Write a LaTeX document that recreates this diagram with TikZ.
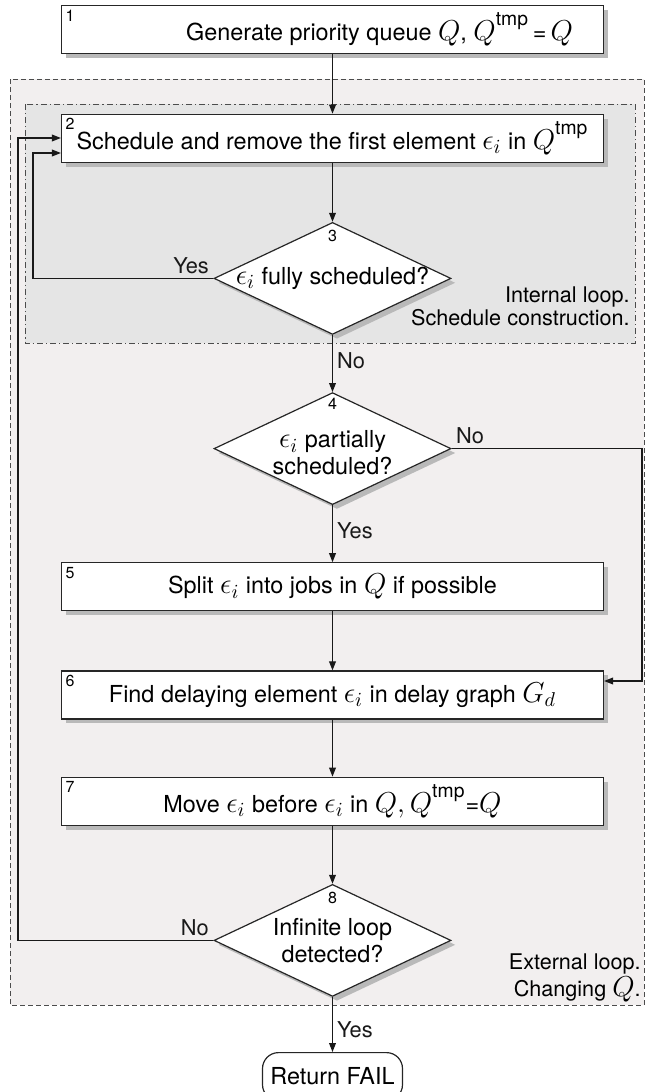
\documentclass[tikz,border=0pt]{standalone}
\usepackage{amsmath}
\usepackage{fontspec}
\setmainfont{TeX Gyre Heros}
\usepackage{tikz}
\usetikzlibrary{shapes.geometric, arrows.meta, positioning, shadows}

\definecolor{extfill}{RGB}{242,239,239}
\definecolor{intfill}{RGB}{229,229,229}
\definecolor{shadegray}{RGB}{185,185,185}

\newcommand{\mq}[1]{{\fontsize{13.8}{15}\selectfont$#1$}}
\newcommand{\tmpsup}{^{\text{\raisebox{2.5pt}{tmp}}}}

\begin{document}
\begin{tikzpicture}[
    x=0.5pt, y=-0.5pt,
    font=\fontsize{11.7}{13.5}\selectfont,
    stepbox/.style={rectangle, draw=black!85, fill=white, line width=0.6pt, minimum width=271pt, minimum height=24pt, inner sep=0pt, drop shadow={shadow xshift=2.2pt, shadow yshift=-2.2pt, fill=shadegray, opacity=1}},
    testbox/.style={diamond, draw=black!85, fill=white, line width=0.6pt, minimum width=118.5pt, minimum height=56pt, inner sep=0pt, drop shadow={shadow xshift=2.2pt, shadow yshift=-2.2pt, fill=shadegray, opacity=1}},
    endbox/.style={rectangle, rounded corners=8pt, draw=black!85, fill=white, line width=0.6pt, minimum width=70pt, minimum height=24pt, inner sep=0pt},
    testtext/.style={align=center, inner sep=0pt, font=\fontsize{11.7}{13.2}\selectfont},
    stepnum/.style={font=\fontsize{8}{8}\selectfont, inner sep=2.2pt, anchor=north west},
    testnum/.style={font=\fontsize{8}{8}\selectfont, inner sep=0pt},
    branch/.style={inner sep=2pt, font=\fontsize{10.9}{12}\selectfont},
    note/.style={align=right, anchor=east, inner sep=0pt, font=\fontsize{10.8}{11.5}\selectfont},
    arr/.style={-{Triangle[length=4.5pt, width=3.4pt]}, line width=0.55pt, color=black!90},
    extloop/.style={draw=black!70, fill=extfill, line width=0.5pt, dash pattern=on 2.5pt off 1.5pt},
    intloop/.style={draw=black!70, fill=intfill, line width=0.5pt, dash pattern=on 3pt off 1.5pt on 0.6pt off 1.5pt}
]

\useasboundingbox (0,0) rectangle (645,1092);

% loop regions
\draw[extloop] (10,79) rectangle (644,1005);
\draw[intloop] (25,104) rectangle (635,343);
\node[note] (intnote) at (630,306) {Internal loop.\\Schedule construction.};
\node[note] (extnote) at (641,978) {External loop.\\Changing \mq{Q}.};

% steps
\node[stepbox] (s1) at (332.5,29.5) {\hspace*{47pt}Generate priority queue \mq{Q}, \mq{Q\tmpsup}\,=\,\mq{Q}};
\node[stepnum] (n1) at (s1.north west) {1};

\node[stepbox, below=29.75pt of s1] (s2) {Schedule and remove the first element \mq{\epsilon_i} in \mq{Q\tmpsup}};
\node[stepnum] (n2) at (s2.north west) {2};

\node[testbox, below=29.5pt of s2] (d3) {};
\node[testtext] (t3) at (d3) {\mq{\epsilon_i} fully scheduled?};
\node[testnum, below=4pt of d3.north] (n3) {3};

\node[testbox, below=28.5pt of d3] (d4) {};
\node[testtext, yshift=-2pt] (t4) at (d4) {\mq{\epsilon_i} partially\\scheduled?};
\node[testnum, below=3pt of d4.north] (n4) {4};

\node[stepbox, below=28.5pt of d4] (s5) {Split \mq{\epsilon_i} into jobs in \mq{Q} if possible};
\node[stepnum] (n5) at (s5.north west) {5};

\node[stepbox, below=29.5pt of s5] (s6) {Find delaying element \mq{\epsilon_i} in delay graph \mq{G_d}};
\node[stepnum] (n6) at (s6.north west) {6};

\node[stepbox, below=28.5pt of s6] (s7) {Move \mq{\epsilon_i} before \mq{\epsilon_i} in \mq{Q, Q\tmpsup}=\mq{Q}};
\node[stepnum] (n7) at (s7.north west) {7};

\node[testbox, below=29pt of s7] (d8) {};
\node[testtext] (t8) at (d8) {Infinite loop\\detected?};
\node[testnum, below=4pt of d8.north] (n8) {8};

\node[endbox, below=27.5pt of d8] (fail) {Return FAIL};

% main flow
\draw[arr] (s1) -- (s2);
\draw[arr] (s2) -- (d3);
\draw[arr] (d3) -- node[branch, right, pos=0.45] (no3) {No} (d4);
\draw[arr] (d4) -- node[branch, right, pos=0.44] (yes4) {Yes} (s5);
\draw[arr] (s5) -- (s6);
\draw[arr] (s6) -- (s7);
\draw[arr] (s7) -- (d8);
\draw[arr] (d8) -- node[branch, right, pos=0.6] (yes8) {Yes} (fail);

% loops back
\coordinate (yesturn) at (33,153);
\coordinate (noturn) at (18,138);
\coordinate (skipturn) at (642,681);
\draw[arr] (d3.west) node[branch, above left] (yes3) {Yes} -| (yesturn) -- (yesturn -| s2.west);
\draw[arr] (d8.west) node[branch, above left] (no8) {No} -| (noturn) -- (noturn -| s2.west);
\draw[arr] (d4.east) node[branch, above right] (no4) {No} -| (skipturn) -- (skipturn -| s6.east);

\end{tikzpicture}
\end{document}
